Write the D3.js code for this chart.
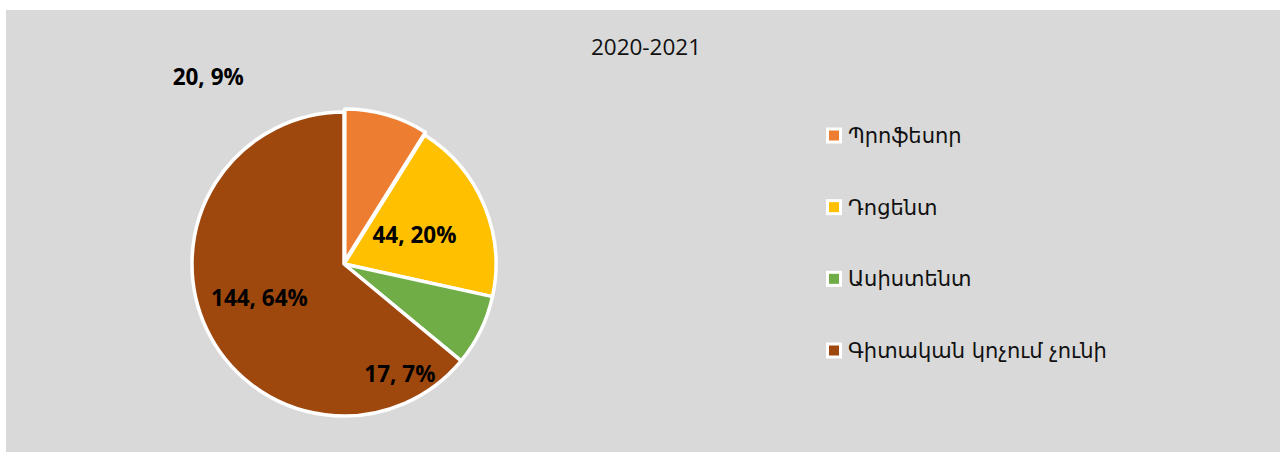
<!DOCTYPE html>
<html>
<head>
<meta charset="utf-8">
<script src="https://cdn.jsdelivr.net/npm/d3@7"></script>
<style>
  body { margin: 0; background: #fff; }
  svg { display: block; }
</style>
</head>
<body>
<svg id="chart" width="1284" height="452"></svg>
<script>
// data
var categories = ["Պրոֆեսոր", "Դոցենտ", "Ասիստենտ", "Գիտական կոչում չունի"];
var values = [20, 44, 17, 144];
var percents = ["9%", "20%", "7%", "64%"];
var colors = ["#ED7D31", "#FFC000", "#70AD47", "#9E480E"];
var title = "2020-2021";

// label placement: [angle in degrees from 12 o'clock, distance as share of radius]
var labelPlace = [[324, 1.52], [68, 0.5], [153, 0.81], [248, 0.6]];

var svg = d3.select("#chart"),
    cx = 344, cy = 264, radius = 152;

svg.append("rect")
    .attr("x", 6).attr("y", 10)
    .attr("width", 1274).attr("height", 442)
    .attr("fill", "#d9d9d9");

svg.append("text")
    .attr("x", 646).attr("y", 55)
    .attr("text-anchor", "middle")
    .attr("font-family", "'Open Sans', sans-serif")
    .attr("font-size", 22.5)
    .attr("fill", "#111")
    .text(title);

var data = values.map(function (v, i) {
  return { name: categories[i], value: v, pct: percents[i], color: colors[i], i: i };
});

var pie = d3.pie().sort(null).value(function (d) { return d.value; });
var arcs = pie(data);
var arc = d3.arc().innerRadius(0).outerRadius(radius);

var g = svg.append("g").attr("transform", "translate(" + cx + "," + cy + ")");

g.selectAll("path")
    .data(arcs)
    .enter().append("path")
    .attr("d", arc)
    .attr("transform", function (d) {
      // first slice sits slightly pulled out
      if (d.data.i !== 0) return null;
      var a = (d.startAngle + d.endAngle) / 2, off = 3;
      return "translate(" + (Math.sin(a) * off) + "," + (-Math.cos(a) * off) + ")";
    })
    .attr("fill", function (d) { return d.data.color; })
    .attr("stroke", "#fff")
    .attr("stroke-width", 3.5)
    .attr("stroke-linejoin", "round");

g.selectAll("text.lbl")
    .data(arcs)
    .enter().append("text")
    .attr("class", "lbl")
    .attr("x", function (d) {
      var p = labelPlace[d.data.i];
      return Math.sin(p[0] * Math.PI / 180) * p[1] * radius;
    })
    .attr("y", function (d) {
      var p = labelPlace[d.data.i];
      return -Math.cos(p[0] * Math.PI / 180) * p[1] * radius;
    })
    .attr("dy", "0.35em")
    .attr("text-anchor", "middle")
    .attr("font-family", "'Open Sans', sans-serif")
    .attr("font-weight", "bold")
    .attr("font-size", 22.5)
    .attr("fill", "#000")
    .text(function (d) { return d.data.value + ", " + d.data.pct; });

// legend
var legend = svg.append("g").attr("transform", "translate(826,0)");
var ly = d3.scaleLinear().domain([0, categories.length - 1]).range([135.5, 350.5]);

var item = legend.selectAll("g")
    .data(data)
    .enter().append("g")
    .attr("transform", function (d) { return "translate(0," + ly(d.i) + ")"; });

item.append("rect")
    .attr("x", 1.5).attr("y", -6.5)
    .attr("width", 13).attr("height", 13)
    .attr("fill", function (d) { return d.color; })
    .attr("stroke", "#fff")
    .attr("stroke-width", 3);

item.append("text")
    .attr("x", 22).attr("dy", "0.35em")
    .attr("font-family", "'DejaVu Sans', 'Noto Sans', sans-serif")
    .attr("font-size", 21)
    .attr("fill", "#111")
    .text(function (d) { return d.name; });
</script>
</body>
</html>
